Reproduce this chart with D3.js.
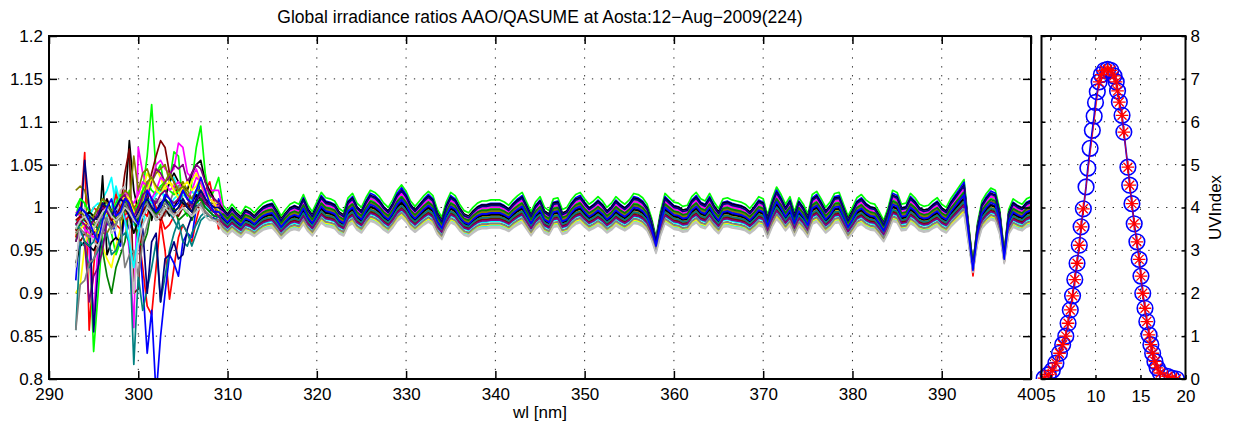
<!DOCTYPE html>
<html>
<head>
<meta charset="utf-8">
<script src="https://cdn.jsdelivr.net/npm/d3@7"></script>
<style>
  body { margin: 0; background: #fff; }
  text { font-family: "Liberation Sans", Arial, sans-serif; fill: #000; }
</style>
</head>
<body>
<div id="chart-area"></div>
<script>
/*
*    irradiance ratios + UV index
*/

// ---- data: spectral ratios ----
var wlTicks = [290, 300, 310, 320, 330, 340, 350, 360, 370, 380, 390, 400];
var ratioTicks = [0.8, 0.85, 0.9, 0.95, 1, 1.05, 1.1, 1.15, 1.2];

// common shape of the ratio, 309.5 .. 400 nm every 0.5 nm
var baseRatio = [
  0.992,
  0.987, 0.993, 0.988, 0.984, 0.991, 0.989, 0.985, 0.990, 0.994, 0.996, // 310
  0.997, 0.990, 0.982, 0.988, 0.993, 0.995, 0.993, 1.002, 0.992, 0.986, // 315
  0.995, 1.004, 0.999, 0.998, 0.996, 0.989, 0.986, 0.999, 1.003, 0.994, // 320
  0.990, 0.999, 1.006, 1.004, 1.000, 0.994, 0.990, 0.997, 1.006, 1.011, // 325
  1.005, 0.996, 0.991, 0.996, 1.001, 1.005, 1.001, 0.988, 0.981, 0.995, // 330
  1.004, 1.001, 0.993, 0.987, 0.985, 0.990, 0.994, 0.996, 0.996, 0.997, // 335
  0.997, 0.997, 0.995, 0.992, 0.997, 1.001, 1.004, 0.995, 0.986, 0.995, // 340
  1.000, 0.990, 0.987, 0.998, 0.999, 0.988, 0.990, 0.997, 1.002, 1.004, // 345
  0.998, 0.993, 0.996, 1.000, 0.996, 0.990, 0.994, 1.000, 0.996, 0.993, // 350
  0.997, 1.003, 1.002, 0.999, 0.993, 0.980, 0.962, 0.986, 1.003, 0.999, // 355
  0.995, 0.994, 0.991, 0.992, 1.000, 1.004, 0.998, 0.996, 1.003, 0.995, // 360
  0.989, 0.998, 0.999, 0.997, 0.996, 0.995, 0.993, 0.989, 0.994, 1.000, // 365
  0.998, 0.983, 0.998, 1.009, 1.002, 0.993, 1.000, 0.986, 0.999, 0.993, // 370
  0.984, 1.002, 1.005, 0.998, 0.990, 0.995, 1.003, 1.004, 0.993, 0.982, // 375
  0.990, 0.999, 1.002, 0.997, 0.994, 0.993, 0.986, 0.978, 0.990, 1.006, // 380
  1.004, 0.993, 0.994, 1.003, 0.999, 0.993, 0.991, 0.992, 0.996, 0.999, // 385
  0.993, 0.990, 0.998, 1.004, 1.010, 1.016, 0.975, 0.936, 0.975, 0.996, // 390
  1.003, 1.008, 1.006, 0.988, 0.948, 0.988, 0.998, 0.995, 0.993, 0.998, // 395
  1.000
];

var seriesColors = [
  "#ff0000", "#00ff00", "#0000ff", "#00ffff", "#ff00ff", "#ffff00", "#000000", "#800000",
  "#808000", "#008000", "#008080", "#800080", "#000080", "#808080", "#c0c0c0",
  "#ff0000", "#00ff00", "#00ffff", "#ff00ff", "#ffff00", "#000000", "#800000",
  "#808000", "#008000", "#008080", "#800080", "#000080", "#808080", "#c0c0c0", "#0000ff"
];

// level of each scan relative to the common shape (309.5 nm onwards)
var seriesOffsets = [
  0.0035, 0.0126, 0.0087, -0.0186, 0.0061, -0.0069, 0.0074, -0.016,
  -0.0004, -0.0095, -0.0121, -0.0017, -0.0043, 0.0048, -0.0199,
  -0.0082, 0.0022, -0.0134, 0.0035, -0.0173, -0.0056, -0.0108,
  -0.0017, 0.0009, -0.0082, -0.0121, 0.0061, -0.016, -0.0212, -0.003
];

// how strongly each scan follows the common wiggles
var seriesGains = [
  1.3, 1.25, 1.3, 0.85, 1.2, 0.95, 1.15, 0.9,
  1.0, 0.95, 0.9, 1.05, 1.0, 1.1, 0.85,
  0.95, 1.1, 0.9, 1.15, 0.85, 1.0, 0.9,
  1.0, 1.05, 0.95, 0.9, 1.2, 0.9, 0.85, 1.1
];

// noisy short-wave part, 293 .. 309 nm every 0.5 nm
var earlyRatios = [
  [0.965, 0.99, 1.064, 0.857, 0.93, 0.985, 1.0, 0.99, 0.985, 0.98, 0.975, 0.99, 1.0, 0.985, 0.97, 0.93, 0.885, 0.875, 0.93, 0.985, 0.95, 0.893, 0.93, 0.965, 0.98, 0.97, 0.96, 0.985, 1.005, 1.02, 1.03, 1.005, 0.975],
  [0.99, 1.01, 1.005, 0.96, 0.832, 0.9, 0.97, 0.99, 0.97, 0.945, 0.96, 1.0, 1.02, 0.99, 0.98, 1.02, 1.06, 1.12, 1.04, 1.05, 1.02, 1.03, 1.065, 1.06, 1.0, 0.99, 1.03, 1.07, 1.095, 1.04, 1.01, 1.02, 1.035],
  [0.915, 0.98, 0.99, 0.975, 0.97, 0.96, 0.97, 0.98, 0.99, 0.965, 0.955, 0.99, 0.975, 0.985, 0.98, 0.91, 0.83, 0.88, 0.78, 0.85, 0.9, 0.945, 0.935, 0.92, 0.96, 0.97, 0.965, 1.0, 1.035, 1.01, 1.0, 0.985, 1.01],
  [0.985, 0.98, 0.975, 0.98, 0.99, 1.0, 1.01, 1.02, 1.035, 1.0, 0.985, 0.99, 0.985, 0.98, 0.975, 0.98, 1.005, 1.01, 1.02, 1.025, 1.01, 1.03, 1.035, 1.02, 1.015, 1.01, 1.02, 1.01, 1.0, 1.005, 0.995, 0.99, 0.99],
  [0.99, 1.0, 0.975, 0.95, 0.87, 0.96, 0.97, 1.0, 0.985, 0.99, 1.005, 0.99, 0.95, 0.86, 1.07, 1.04, 1.025, 1.03, 1.05, 1.055, 1.045, 1.04, 1.045, 1.075, 1.07, 1.04, 1.035, 1.045, 1.03, 1.02, 1.02, 1.02, 1.02],
  [0.9, 0.91, 0.955, 0.975, 0.97, 0.96, 0.955, 0.94, 0.93, 0.955, 0.975, 1.0, 0.99, 0.995, 1.015, 1.02, 1.04, 1.03, 1.045, 1.035, 1.02, 1.03, 1.025, 1.015, 1.03, 1.02, 1.03, 1.04, 1.025, 1.015, 1.01, 1.005, 1.005],
  [0.935, 0.955, 0.96, 0.955, 0.95, 0.96, 1.037, 0.945, 0.96, 0.965, 0.96, 1.0, 1.078, 1.02, 0.995, 0.99, 1.02, 0.985, 1.01, 1.0, 1.01, 1.03, 1.04, 1.03, 1.025, 1.02, 1.04, 1.05, 1.055, 1.03, 1.02, 1.01, 1.005],
  [0.975, 0.96, 0.97, 0.965, 0.97, 0.975, 0.99, 0.995, 0.99, 0.985, 1.0, 1.04, 1.068, 0.9, 0.905, 1.0, 1.02, 1.04, 1.06, 1.078, 1.07, 1.04, 1.03, 1.01, 1.02, 1.01, 1.005, 1.0, 1.0, 0.995, 0.99, 0.99, 0.985],
  [1.02, 1.025, 1.02, 1.0, 0.985, 0.975, 0.97, 0.97, 0.98, 0.99, 0.985, 0.995, 1.005, 1.06, 1.02, 1.04, 1.045, 1.03, 1.04, 1.045, 1.05, 1.03, 1.02, 1.025, 1.03, 1.02, 1.01, 1.02, 1.015, 1.01, 1.005, 1.005, 1.0],
  [0.96, 0.985, 0.98, 0.97, 0.975, 0.985, 0.95, 0.92, 0.9, 0.93, 0.945, 0.96, 1.0, 0.99, 0.96, 0.955, 0.97, 1.0, 0.99, 1.005, 1.01, 0.995, 1.0, 0.985, 0.99, 0.995, 0.985, 1.0, 1.005, 1.0, 0.995, 0.99, 0.99],
  [0.857, 0.96, 0.955, 0.93, 0.94, 0.95, 0.96, 0.97, 0.945, 0.95, 0.965, 0.97, 0.96, 0.817, 0.92, 0.88, 0.905, 0.93, 0.96, 0.89, 0.92, 0.95, 0.97, 0.985, 0.96, 0.955, 0.97, 0.98, 0.99, 0.995, 0.99, 0.985, 0.99],
  [0.96, 0.975, 0.96, 0.89, 0.92, 0.93, 0.95, 0.985, 0.975, 0.985, 0.99, 1.015, 1.005, 1.0, 0.99, 0.995, 1.01, 1.03, 1.045, 1.04, 1.03, 1.035, 1.05, 1.045, 1.05, 1.03, 1.04, 1.05, 1.045, 1.03, 1.015, 1.01, 1.005],
  [0.97, 0.975, 1.055, 1.0, 0.855, 0.93, 0.985, 0.99, 0.98, 0.995, 1.0, 1.005, 1.0, 0.99, 0.985, 0.975, 0.9, 0.96, 0.97, 0.89, 0.94, 0.945, 0.96, 0.94, 0.945, 0.975, 0.99, 1.005, 1.02, 1.01, 1.0, 0.995, 0.995],
  [0.857, 0.91, 0.915, 0.935, 0.94, 0.955, 0.97, 0.99, 0.995, 1.02, 0.98, 0.93, 0.945, 0.95, 0.92, 0.96, 0.98, 1.0, 1.01, 1.0, 0.99, 1.005, 1.02, 1.025, 1.01, 1.0, 1.01, 1.02, 1.01, 1.0, 0.995, 0.995, 0.995],
  [0.93, 0.98, 1.0, 0.97, 0.96, 0.955, 0.98, 0.995, 0.97, 0.975, 1.02, 1.025, 0.98, 0.9, 0.955, 0.98, 0.99, 1.005, 1.0, 1.01, 1.0, 0.995, 1.005, 1.01, 1.0, 0.995, 1.0, 1.005, 1.0, 0.995, 0.99, 0.99, 0.985],
  [0.98, 0.99, 0.975, 0.99, 1.0, 0.995, 1.005, 0.99, 0.995, 1.015, 1.0, 0.985, 0.99, 1.0, 1.005, 0.995, 0.99, 1.01, 1.0, 0.99, 0.975, 0.98, 0.99, 0.995, 1.005, 1.0, 0.995, 1.01, 1.015, 1.005, 1.0, 0.995, 0.99],
  [1.0, 1.01, 1.005, 0.995, 0.99, 1.0, 1.01, 1.0, 0.995, 1.005, 1.015, 1.01, 1.0, 0.995, 1.005, 1.02, 1.03, 1.02, 1.015, 1.025, 1.03, 1.02, 1.015, 1.02, 1.025, 1.01, 1.005, 1.02, 1.03, 1.02, 1.01, 1.005, 1.0],
  [0.975, 0.98, 0.985, 0.99, 1.0, 1.005, 0.995, 0.99, 1.0, 1.025, 1.005, 0.985, 0.96, 0.93, 0.97, 1.0, 1.01, 1.005, 1.015, 1.02, 1.01, 1.0, 1.01, 1.015, 1.005, 1.0, 1.01, 1.02, 1.01, 1.0, 0.995, 0.99, 0.99],
  [0.995, 0.99, 0.975, 0.97, 0.965, 0.975, 1.0, 1.01, 0.995, 0.99, 1.0, 1.02, 1.01, 1.005, 1.015, 1.03, 1.025, 1.01, 1.02, 1.035, 1.03, 1.02, 1.025, 1.03, 1.02, 1.01, 1.02, 1.035, 1.03, 1.015, 1.01, 1.005, 1.0],
  [0.97, 0.975, 0.98, 0.985, 0.975, 0.97, 0.985, 0.995, 0.99, 0.98, 1.0, 1.015, 1.01, 0.995, 0.99, 1.005, 1.02, 1.035, 1.02, 1.015, 1.025, 1.03, 1.02, 1.01, 1.025, 1.03, 1.02, 1.025, 1.035, 1.02, 1.01, 1.005, 0.995],
  [0.98, 0.985, 0.99, 0.995, 0.99, 0.985, 1.0, 1.01, 0.995, 0.985, 0.99, 1.0, 0.99, 0.97, 0.985, 0.995, 1.0, 0.99, 0.995, 1.005, 1.0, 0.99, 1.0, 1.01, 1.005, 1.0, 1.005, 1.015, 1.01, 1.005, 1.0, 0.995, 0.99],
  [0.985, 0.99, 0.985, 0.98, 0.985, 0.99, 1.005, 0.995, 0.985, 0.99, 1.0, 1.01, 1.005, 0.99, 0.985, 0.995, 1.005, 1.0, 0.99, 0.985, 0.995, 1.0, 0.995, 0.99, 1.0, 1.005, 0.995, 1.0, 1.005, 0.995, 0.99, 0.985, 0.985],
  [0.99, 0.995, 0.99, 0.985, 0.99, 1.0, 1.01, 1.005, 0.995, 1.0, 1.01, 1.02, 1.015, 1.0, 0.995, 1.01, 1.03, 1.035, 1.025, 1.02, 1.03, 1.04, 1.03, 1.02, 1.025, 1.015, 1.01, 1.02, 1.02, 1.01, 1.005, 1.0, 0.995],
  [0.975, 0.98, 0.99, 0.985, 0.98, 0.975, 0.99, 1.0, 0.995, 0.985, 0.99, 1.005, 1.0, 0.99, 0.985, 1.0, 1.01, 1.0, 0.99, 1.0, 1.01, 1.005, 0.995, 1.0, 1.01, 1.0, 0.995, 1.005, 1.01, 1.0, 0.995, 0.99, 0.99],
  [0.98, 0.975, 0.96, 0.955, 0.96, 0.975, 0.99, 0.985, 0.975, 0.98, 0.995, 1.005, 0.995, 0.985, 0.98, 0.99, 1.0, 0.995, 0.985, 0.99, 1.0, 0.995, 0.985, 0.975, 0.98, 0.97, 0.955, 0.97, 0.985, 0.99, 0.99, 0.985, 0.99],
  [0.98, 0.985, 0.98, 0.975, 0.985, 0.995, 1.0, 0.995, 0.99, 1.0, 1.01, 1.015, 1.0, 0.99, 1.0, 1.015, 1.02, 1.01, 1.005, 1.015, 1.02, 1.01, 1.005, 1.01, 1.02, 1.01, 1.0, 1.01, 1.015, 1.005, 1.0, 0.995, 0.99],
  [0.99, 1.0, 0.995, 0.99, 0.985, 0.99, 1.005, 1.0, 0.99, 1.0, 1.01, 1.005, 0.99, 0.985, 0.995, 1.005, 1.01, 1.0, 0.995, 1.005, 1.01, 1.0, 0.995, 1.0, 1.01, 1.0, 0.995, 1.01, 1.02, 1.01, 1.005, 1.0, 1.0],
  [0.97, 0.975, 0.97, 0.965, 0.975, 0.985, 0.99, 0.985, 0.975, 0.98, 0.995, 1.005, 0.995, 0.985, 0.99, 1.0, 1.005, 0.995, 0.99, 0.995, 1.005, 1.0, 0.99, 0.995, 1.0, 0.995, 0.99, 1.0, 1.005, 0.995, 0.99, 0.985, 0.985],
  [0.975, 0.985, 0.99, 0.98, 0.975, 0.985, 0.995, 1.0, 0.99, 0.985, 0.99, 1.0, 0.995, 0.985, 0.98, 0.99, 1.0, 0.995, 0.985, 0.99, 1.0, 0.995, 0.99, 0.995, 1.0, 0.995, 0.99, 0.995, 1.0, 0.99, 0.985, 0.985, 0.98],
  [0.99, 1.0, 0.995, 0.985, 0.97, 0.96, 0.985, 1.0, 1.01, 0.99, 0.995, 1.01, 1.005, 0.99, 0.98, 1.0, 1.02, 1.01, 0.995, 1.0, 1.015, 1.01, 1.0, 1.005, 1.02, 1.01, 1.005, 1.02, 1.035, 1.02, 1.005, 0.995, 0.995]
];

// ---- data: UV index during the day ----
var hourTicks = [5, 10, 15, 20];
var uviTicks = [0, 1, 2, 3, 4, 5, 6, 7, 8];
var uvHours = [4.3, 4.75, 5.2, 5.6, 6.0, 6.35, 6.7, 6.95, 7.2, 7.45, 7.7, 7.95, 8.2, 8.4, 8.65,
  8.95, 9.15, 9.4, 9.65, 9.85, 10.0, 10.2, 10.4, 10.65, 11.0, 11.35, 11.7, 12.05, 12.3, 12.45,
  12.65, 12.95, 13.15, 13.6, 13.8, 14.05, 14.3, 14.6, 14.85, 15.05, 15.25, 15.5, 15.7, 15.95,
  16.15, 16.35, 16.6, 16.85, 17.2, 18.0, 18.5, 19.0];
var uvQasume = [0.02, 0.1, 0.2, 0.37, 0.6, 0.8, 1.0, 1.3, 1.61, 1.94, 2.32, 2.7, 3.12, 3.55, 3.97,
  4.48, 4.92, 5.38, 5.8, 6.13, 6.45, 6.7, 6.93, 7.1, 7.2, 7.22, 7.2, 7.07, 6.93, 6.72,
  6.46, 6.15, 5.76, 4.94, 4.52, 4.09, 3.62, 3.2, 2.79, 2.4, 2.0, 1.65, 1.34, 1.03,
  0.8, 0.6, 0.41, 0.26, 0.14, 0.06, 0.02, 0.0];
var uvAao = [0.02, 0.1, 0.2, 0.37, 0.6, 0.8, 1.0, 1.3, 1.61, 1.94, 2.32, 2.7, 3.12, 3.55, 3.97,
  null, null, null, null, null, null, null, 6.93, 7.1, 7.2, 7.22, 7.2, 7.07, 6.93, 6.72,
  6.46, 6.15, 5.76, 4.94, 4.52, 4.09, 3.62, 3.2, 2.79, 2.4, 2.0, 1.65, 1.34, 1.03,
  0.8, 0.6, 0.41, 0.26, 0.14, 0.06, 0.02, 0.0];

// ---- chart ----
var W = 1235, H = 430;
var left = { x0: 49, x1: 1031, y0: 36, y1: 379 };
var right = { x0: 1041.5, x1: 1185.5, y0: 36, y1: 379 };

var svg = d3.select("#chart-area")
  .append("svg")
  .attr("width", W)
  .attr("height", H);

var x = d3.scaleLinear().domain([290, 400]).range([left.x0, left.x1]);
var y = d3.scaleLinear().domain([0.8, 1.2]).range([left.y1, left.y0]);
var xh = d3.scaleLinear().domain([4, 20]).range([right.x0, right.x1]);
var yu = d3.scaleLinear().domain([0, 8]).range([right.y1, right.y0]);

var defs = svg.append("defs");
defs.append("clipPath").attr("id", "clipL").append("rect")
  .attr("x", left.x0).attr("y", left.y0)
  .attr("width", left.x1 - left.x0).attr("height", left.y1 - left.y0);
defs.append("clipPath").attr("id", "clipR").append("rect")
  .attr("x", right.x0 - 10).attr("y", right.y0 - 10)
  .attr("width", right.x1 - right.x0 + 20).attr("height", right.y1 - right.y0 + 10);

function grid(g, xs, ys, xv, yv, box) {
  g.selectAll(".gx").data(xv).enter().append("line")
    .attr("x1", (d) => xs(d)).attr("x2", (d) => xs(d))
    .attr("y1", box.y1).attr("y2", box.y0);
  g.selectAll(".gy").data(yv).enter().append("line")
    .attr("y1", (d) => ys(d)).attr("y2", (d) => ys(d))
    .attr("x1", box.x0).attr("x2", box.x1);
  g.selectAll("line")
    .attr("stroke", "#222")
    .attr("stroke-width", 1)
    .attr("stroke-dasharray", "1.3,7.6");
}

grid(svg.append("g"), x, y, wlTicks.slice(1, -1), ratioTicks.slice(1, -1), left);
grid(svg.append("g"), xh, yu, [5, 10, 15], uviTicks.slice(1, -1), right);

// spectral ratio lines
var earlyWl = earlyRatios[0].map((d, i) => 293 + 0.5 * i);
var baseWl = baseRatio.map((d, i) => 309.5 + 0.5 * i);

var series = earlyRatios.map(function (early, k) {
  var pts = early.map((r, i) => ({ wl: earlyWl[i], r: r }));
  baseRatio.forEach((b, i) => pts.push({
    wl: baseWl[i],
    r: 1 + (b - 1) * seriesGains[k] + seriesOffsets[k]
  }));
  return { color: seriesColors[k], pts: pts };
});

var line = d3.line()
  .x((d) => x(d.wl))
  .y((d) => y(d.r));

svg.append("g")
  .attr("clip-path", "url(#clipL)")
  .selectAll("path")
  .data(series)
  .enter()
  .append("path")
  .attr("d", (d) => line(d.pts))
  .attr("fill", "none")
  .attr("stroke", (d) => d.color)
  .attr("stroke-width", 1.7)
  .attr("stroke-linejoin", "round");

// UV index
var uvBlue = uvHours.map((h, i) => ({ h: h, v: uvQasume[i] }));
var uvRed = uvHours.map((h, i) => ({ h: h, v: uvAao[i] })).filter((d) => d.v !== null);

var uvLine = d3.line()
  .x((d) => xh(d.h))
  .y((d) => yu(d.v));

var gR = svg.append("g").attr("clip-path", "url(#clipR)");

gR.append("path")
  .attr("d", uvLine(uvBlue))
  .attr("fill", "none")
  .attr("stroke", "#0000ff")
  .attr("stroke-width", 1.8);

gR.selectAll("circle")
  .data(uvBlue)
  .enter()
  .append("circle")
  .attr("cx", (d) => xh(d.h))
  .attr("cy", (d) => yu(d.v))
  .attr("r", 7.8)
  .attr("fill", "none")
  .attr("stroke", "#0000ff")
  .attr("stroke-width", 1.6);

gR.append("path")
  .attr("d", uvLine(uvRed))
  .attr("fill", "none")
  .attr("stroke", "#ff0000")
  .attr("stroke-width", 0.8);

var s = 6.3, sd = 4.5;
gR.selectAll(".star")
  .data(uvRed)
  .enter()
  .append("path")
  .attr("transform", (d) => "translate(" + xh(d.h) + "," + yu(d.v) + ")")
  .attr("d", "M" + -s + ",0H" + s + "M0," + -s + "V" + s +
    "M" + -sd + "," + -sd + "L" + sd + "," + sd + "M" + -sd + "," + sd + "L" + sd + "," + -sd)
  .attr("fill", "none")
  .attr("stroke", "#ff0000")
  .attr("stroke-width", 1.3);

// axes
function styleAxis(g) {
  g.select(".domain").remove();
  g.selectAll(".tick line").attr("stroke", "#000").attr("stroke-width", 1.5);
  g.selectAll("text").attr("font-size", 17).attr("fill", "#000")
    .attr("font-family", "Liberation Sans, Arial, sans-serif");
}

var fmt = (d) => String(+d.toFixed(2));

svg.append("g").attr("transform", "translate(0," + left.y1 + ")")
  .call(d3.axisBottom(x).tickValues(wlTicks).tickSize(-8).tickPadding(9).tickFormat(fmt))
  .call(styleAxis);
svg.append("g").attr("transform", "translate(0," + left.y0 + ")")
  .call(d3.axisTop(x).tickValues(wlTicks).tickSize(-8).tickFormat(""))
  .call(styleAxis);
svg.append("g").attr("transform", "translate(" + left.x0 + ",0)")
  .call(d3.axisLeft(y).tickValues(ratioTicks).tickSize(-8).tickPadding(6).tickFormat(fmt))
  .call(styleAxis);
svg.append("g").attr("transform", "translate(" + left.x1 + ",0)")
  .call(d3.axisRight(y).tickValues(ratioTicks).tickSize(-8).tickFormat(""))
  .call(styleAxis);

svg.append("g").attr("transform", "translate(0," + right.y1 + ")")
  .call(d3.axisBottom(xh).tickValues(hourTicks).tickSize(-4).tickPadding(11).tickFormat(fmt))
  .call(styleAxis);
svg.append("g").attr("transform", "translate(0," + right.y0 + ")")
  .call(d3.axisTop(xh).tickValues(hourTicks).tickSize(-4).tickFormat(""))
  .call(styleAxis);
svg.append("g").attr("transform", "translate(" + right.x0 + ",0)")
  .call(d3.axisLeft(yu).tickValues(uviTicks).tickSize(-4).tickFormat(""))
  .call(styleAxis);
svg.append("g").attr("transform", "translate(" + right.x1 + ",0)")
  .call(d3.axisRight(yu).tickValues(uviTicks).tickSize(-4).tickPadding(5).tickFormat(fmt))
  .call(styleAxis);

// boxes
[left, right].forEach(function (b) {
  svg.append("rect")
    .attr("x", b.x0).attr("y", b.y0)
    .attr("width", b.x1 - b.x0).attr("height", b.y1 - b.y0)
    .attr("fill", "none")
    .attr("stroke", "#000")
    .attr("stroke-width", 2);
});

// labels
svg.append("text")
  .attr("x", (left.x0 + left.x1) / 2)
  .attr("y", 23)
  .attr("text-anchor", "middle")
  .attr("font-size", 17.5)
  .text("Global irradiance ratios AAO/QASUME at Aosta:12\u2212Aug\u22122009(224)");

svg.append("text")
  .attr("x", (left.x0 + left.x1) / 2)
  .attr("y", 418)
  .attr("text-anchor", "middle")
  .attr("font-size", 17)
  .text("wl [nm]");

svg.append("text")
  .attr("transform", "translate(1221," + (right.y0 + right.y1) / 2 + ") rotate(-90)")
  .attr("text-anchor", "middle")
  .attr("font-size", 17)
  .text("UVIndex");
</script>
</body>
</html>
